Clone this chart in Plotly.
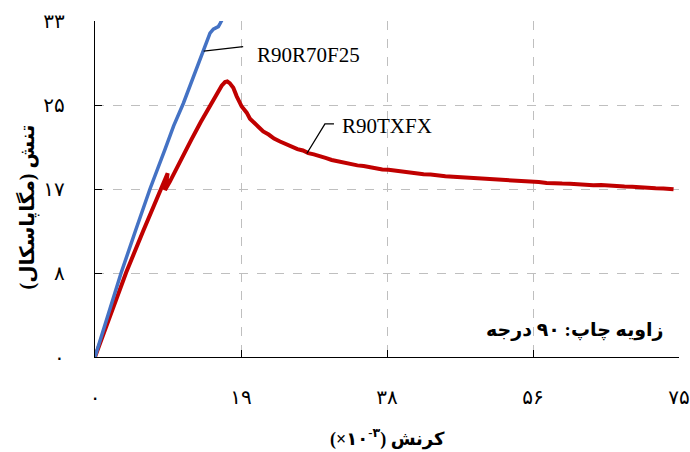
import plotly.graph_objects as go

# ---------------- data ----------------
blue_name = "R90R70F25"
blue_x = [0, 1.6, 3.34, 5.2, 7.06, 8.99, 10.1, 11.34, 12.4, 13.48, 14.2, 14.77, 15.2, 15.5, 15.84, 16.1, 16.5, 16.9]
blue_y = [0, 4.0, 8.22, 12.4, 16.5, 20.4, 22.7, 24.9, 27.1, 29.33, 30.8, 31.8, 32.2, 32.35, 32.45, 32.8, 33.3, 34.0]

red_name = "R90TXFX"
red_x = [0, 2.0, 4.0, 6.2, 8.4, 8.9, 9.33, 9.15, 8.99, 9.6, 10.5, 11.56, 12.41, 13.6, 14.77, 15.6, 16.27,
         16.7, 16.99, 17.3, 17.76, 18.2, 18.84, 19.48, 19.9, 20.97, 21.6, 22.3, 23.0, 23.76, 24.5, 25.2, 26.0,
         26.7, 27.4, 28.1, 28.8, 29.6, 30.4, 31.2, 32.0, 32.8, 33.7, 34.5, 35.3, 36.1, 36.9, 37.7, 38.6, 39.5,
         40.4, 41.3, 42.2, 43.1, 44.0, 45.0, 46.0, 47.0, 48.0, 49.0, 50.0, 51.0, 52.0, 53.0, 54.0, 55.0, 56.0,
         57.0, 58.0, 59.0, 60.0, 61.0, 62.0, 63.0, 64.0, 65.0, 66.0, 67.0, 68.0, 69.0, 70.0, 71.0, 72.0, 73.0, 74.3]
red_y = [0, 4.2, 8.3, 12.4, 16.4, 17.3, 18.04, 17.1, 16.4, 17.2, 18.6, 20.1, 21.4, 23.1, 24.65, 25.9, 26.65,
         27.0, 27.06, 26.9, 26.45, 25.6, 24.6, 24.0, 23.4, 22.62, 22.15, 21.85, 21.45, 21.16, 20.88, 20.70, 20.42,
         20.28, 20.02, 19.90, 19.70, 19.55, 19.35, 19.22, 19.05, 18.98, 18.82, 18.75, 18.62, 18.55, 18.42, 18.38, 18.28, 18.22,
         18.10, 18.06, 17.95, 17.92, 17.82, 17.76, 17.70, 17.66, 17.58, 17.55, 17.47, 17.46, 17.38, 17.36, 17.28, 17.26, 17.20,
         17.18, 17.10, 17.11, 17.03, 17.02, 16.96, 16.95, 16.88, 16.90, 16.82, 16.80, 16.74, 16.73, 16.66, 16.65, 16.58, 16.56, 16.47]

x_tickvals = [0, 18.75, 37.5, 56.25, 75]
x_ticktext = ["۰", "۱۹", "۳۸", "۵۶", "۷۵"]
y_tickvals = [0, 8.25, 16.5, 24.75, 33]
y_ticktext = ["۰", "۸", "۱۷", "۲۵", "۳۳"]

x_title = "(×۱۰<sup>-۳</sup>) کرنش"
y_title = "تنش (مگاپاسکال)\u200f"
note_text = "زاویه چاپ: ۹۰ درجه"

# ---------------- figure ----------------
fig = go.Figure()
fig.add_trace(go.Scatter(x=red_x, y=red_y, mode="lines", name=red_name,
                         line=dict(color="#C00000", width=4)))
fig.add_trace(go.Scatter(x=blue_x, y=blue_y, mode="lines", name=blue_name,
                         line=dict(color="#4472C4", width=3.5)))

serif = "Liberation Serif, Times New Roman, serif"
fa_font = "Liberation Serif, DejaVu Sans, sans-serif"

axis_common = dict(showline=True, linecolor="black", linewidth=1.3, ticks="inside", ticklen=7,
                   tickcolor="black", tickwidth=1.3, showgrid=True, gridcolor="#BFBFBF",
                   griddash="dash", gridwidth=1, zeroline=False, mirror=False,
                   tickfont=dict(family=fa_font, size=20, color="black"))

fig.update_xaxes(range=[0, 75], tickmode="array", tickvals=x_tickvals, ticktext=x_ticktext,
                 ticklabelstandoff=22, **axis_common)
fig.update_yaxes(range=[0, 33], tickmode="array", tickvals=y_tickvals, ticktext=y_ticktext,
                 ticklabelstandoff=25, **axis_common)

# leader lines
fig.add_shape(type="line", xref="x", yref="y", x0=13.96, y0=30.05, x1=19.03, y1=30.48,
              line=dict(color="black", width=1.3))
fig.add_shape(type="path", xref="x", yref="y", path="M 27.2 19.99 L 29.53 22.89 L 30.69 22.89",
              line=dict(color="black", width=1.3))

fig.add_annotation(x=20.55, y=29.66, xref="x", yref="y", text=blue_name, showarrow=False,
                   xanchor="left", yanchor="middle", font=dict(family=serif, size=21, color="black"))
fig.add_annotation(x=31.46, y=22.69, xref="x", yref="y", text=red_name, showarrow=False,
                   xanchor="left", yanchor="middle", font=dict(family=serif, size=21, color="black"))
fig.add_annotation(x=73.3, y=2.65, xref="x", yref="y", text="<b>" + note_text + "</b>", showarrow=False,
                   xanchor="right", yanchor="middle", font=dict(family=fa_font, size=19, color="black"))

# axis titles
fig.add_annotation(x=0.5, y=-0.241, xref="paper", yref="paper", text="<b>" + x_title + "</b>",
                   showarrow=False, xanchor="center", yanchor="middle",
                   font=dict(family=fa_font, size=18, color="black"))
fig.add_annotation(x=-0.1164, y=0.445, xref="paper", yref="paper", text="<b>" + y_title + "</b>",
                   showarrow=False, xanchor="center", yanchor="middle", textangle=-90,
                   font=dict(family=fa_font, size=20, color="black"))

fig.update_layout(width=690, height=452, margin=dict(l=95, r=11, t=21, b=95, autoexpand=False),
                  paper_bgcolor="white", plot_bgcolor="white", showlegend=False)

fig.write_html("out.html", config={"displayModeBar": False},
               post_script="document.body.style.margin='0';document.body.style.overflow='hidden';")
